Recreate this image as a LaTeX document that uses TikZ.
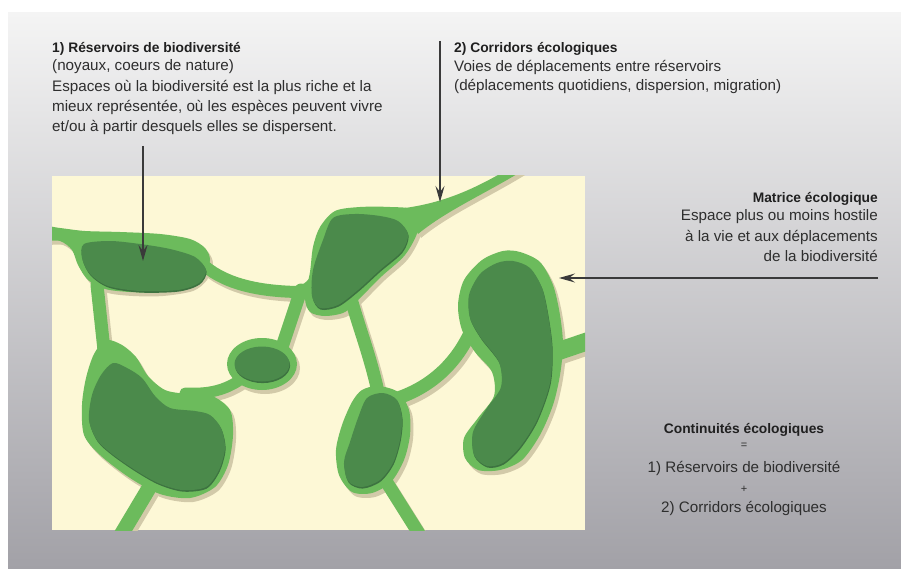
\documentclass[tikz,border=0pt]{standalone}
\usepackage{fontspec}
\setmainfont{Liberation Sans}
\usetikzlibrary{arrows.meta}
\definecolor{cream}{HTML}{FDF8D6}
\definecolor{lgreen}{HTML}{6CBB5C}
\definecolor{dgreen}{HTML}{4B8A4B}
\definecolor{ddgreen}{HTML}{3D7340}
\definecolor{shadowc}{HTML}{D2CAA9}
\definecolor{bgtop}{HTML}{F4F4F4}
\definecolor{bgbot}{HTML}{A2A1A7}
\definecolor{txt}{HTML}{2E2E2E}
\definecolor{arrowc}{HTML}{3A3A3A}

\newcommand\lightnet[1]{%
 % halo 1 with entry corridor from the left edge
 \fill[#1] plot[smooth cycle] coordinates {(40,226) (60,228) (85,231) (120,232) (160,234) (190,239) (205,248) (210,260) (204,276) (190,287) (160,292) (130,292) (105,289) (88,280) (78,265) (72,250) (60,241) (40,240)};
 % halo 2
 \fill[#1] plot[smooth cycle] coordinates {(313,247) (320,227) (335,211) (360,207) (390,207) (413,210) (418,230) (405,255) (382,276) (362,296) (345,312) (325,316) (310,312) (305,298) (310,272)};
 % horn corridor to the top edge
 \fill[#1] (405,208) .. controls (440,203) and (470,192) .. (510,168) -- (527,168) .. controls (487,193) and (447,210) .. (418,234) -- cycle;
 % halo 3
 \fill[#1] plot[smooth cycle] coordinates {(520,252) (540,262) (553,285) (560,315) (563,345) (560,375) (553,405) (540,435) (522,460) (500,470) (478,470) (465,458) (464,438) (478,418) (494,396) (492,372) (475,352) (462,330) (458,305) (464,280) (482,260) (503,251)};
 % halo 4
 \fill[#1] plot[smooth cycle] coordinates {(106,340) (122,345) (136,357) (148,376) (165,390) (187,394) (212,396) (230,410) (233,435) (228,465) (215,487) (190,498) (160,494) (130,478) (100,455) (84,435) (82,405) (86,378) (94,354)};
 % halo 5
 \fill[#1] plot[smooth cycle] coordinates {(378,386) (398,392) (409,410) (410,435) (404,460) (391,482) (372,493) (352,492) (339,475) (336,450) (342,425) (352,402) (362,390)};
 % halo 6
 \fill[#1] (262,364) ellipse [x radius=35, y radius=26];
 % corridors
 \draw[#1, line width=12pt, line cap=round] (200,262) .. controls (222,283) and (255,291) .. (297,292) .. controls (308,291) and (315,283) .. (320,272);
 \draw[#1, line width=13pt, line cap=round] (301,290) -- (281,350);
 \draw[#1, line width=13pt, line cap=round] (97,285) -- (104,350);
 \draw[#1, line width=11pt, line cap=round] (185,393) .. controls (205,394) and (222,392) .. (240,380);
 \draw[#1, line width=15pt, line cap=round] (155,478) -- (115,545);
 \draw[#1, line width=13pt, line cap=round] (350,295) .. controls (358,325) and (370,355) .. (378,392);
 \draw[#1, line width=13pt, line cap=round] (470,333) .. controls (455,365) and (430,387) .. (398,398);
 \draw[#1, line width=13pt, line cap=round] (384,478) -- (423,540);
 \draw[#1, line width=18pt, line cap=round] (550,354) -- (600,337);
}

\newcommand\darknet[1]{%
 \fill[#1] plot[smooth cycle] coordinates {(84,244) (110,241) (140,244) (170,249) (195,257) (206,270) (199,283) (178,290) (140,291) (108,286) (90,274) (82,258)};
 \fill[#1] plot[smooth cycle] coordinates {(323,240) (333,218) (355,214) (380,216) (398,221) (408,234) (402,251) (380,270) (358,290) (338,305) (320,308) (312,296) (313,270)};
 \fill[#1] plot[smooth cycle] coordinates {(513,261) (530,268) (542,288) (548,315) (552,347) (550,383) (537,420) (520,447) (503,463) (487,466) (474,455) (473,432) (487,408) (501,387) (499,362) (481,338) (470,318) (469,295) (480,274) (497,263)};
 \fill[#1] plot[smooth cycle] coordinates {(113,363) (127,368) (142,378) (155,396) (170,408) (195,411) (210,415) (221,428) (225,448) (219,470) (206,487) (182,490) (158,483) (135,470) (112,454) (97,440) (89,420) (92,395) (101,375)};
 \fill[#1] plot[smooth cycle] coordinates {(383,393) (397,400) (402,418) (400,440) (393,463) (380,480) (362,487) (348,481) (344,462) (350,442) (358,418) (367,398)};
 \fill[#1] (262,364) ellipse [x radius=27.5, y radius=17.5];
}

\begin{document}
\begin{tikzpicture}[x=1pt,y=-1pt,
  treg/.style={inner sep=0pt, text=txt, font=\fontsize{15.2}{20}\selectfont},
  tbold/.style={inner sep=0pt, text=txt!70!black, font=\fontsize{13.8}{16}\selectfont\bfseries},
  tsmall/.style={inner sep=0pt, text=txt, font=\fontsize{11}{13}\selectfont},
  arr/.style={draw=arrowc, line width=1.1pt, -{Stealth[length=16pt,width=9pt,inset=6pt]}}]
\useasboundingbox (0,0) rectangle (901,569);
\fill[white] (0,0) rectangle (901,569);
\shade[top color=bgtop, bottom color=bgbot] (8,13) rectangle (901,569);
\fill[cream] (52,176) rectangle (585,530);
\begin{scope}
  \clip (52,176) rectangle (585,530);
  \begin{scope}[shift={(3,4)}]\lightnet{shadowc}\end{scope}
  \lightnet{lgreen}
  \begin{scope}[shift={(0.6,1.6)}]\darknet{ddgreen}\end{scope}
  \darknet{dgreen}
\end{scope}

% block 1
\node[tbold, anchor=base west] (r1) at (52,52.5) {1) Réservoirs de biodiversité};
\node[treg, anchor=base west] (r2) at (52,70.5) {(noyaux, coeurs de nature)};
\node[treg, anchor=base west] (r3) at (52,91.5) {Espaces où la biodiversité est la plus riche et la};
\node[treg, anchor=base west] (r4) at (52,111.5) {mieux représentée, où les espèces peuvent vivre};
\node[treg, anchor=base west] (r5) at (52,131.5) {et/ou à partir desquels elles se dispersent.};
% block 2
\node[tbold, anchor=base west] (c1) at (454,53) {2) Corridors écologiques};
\node[treg, anchor=base west] (c2) at (454,71.5) {Voies de déplacements entre réservoirs};
\node[treg, anchor=base west] (c3) at (454,91) {(déplacements quotidiens, dispersion, migration)};
% block 3
\node[tbold, anchor=base east] (m1) at (878,203) {Matrice écologique};
\node[treg, anchor=base east] (m2) at (878,221) {Espace plus ou moins hostile};
\node[treg, anchor=base east] (m3) at (878,241.5) {à la vie et aux déplacements};
\node[treg, anchor=base east] (m4) at (878,261.5) {de la biodiversité};
% block 4
\node[tbold, anchor=base] (k1) at (744,433) {Continuités écologiques};
\node[tsmall, anchor=base] (k2) at (744,448) {=};
\node[treg, anchor=base] (k3) at (744,472) {1) Réservoirs de biodiversité};
\node[tsmall, anchor=base] (k4) at (744,492) {+};
\node[treg, anchor=base] (k5) at (744,512) {2) Corridors écologiques};

% arrows
\coordinate (a1s) at (143,146);
\coordinate (a1e) at (143,261);
\coordinate (a2s) at (440,41);
\coordinate (a2e) at (440,202);
\coordinate (a3s) at (878,278);
\coordinate (a3e) at (559,278);
\draw[arr] (a1s) -- (a1e);
\draw[arr] (a2s) -- (a2e);
\draw[arr] (a3s) -- (a3e);
\end{tikzpicture}
\end{document}
